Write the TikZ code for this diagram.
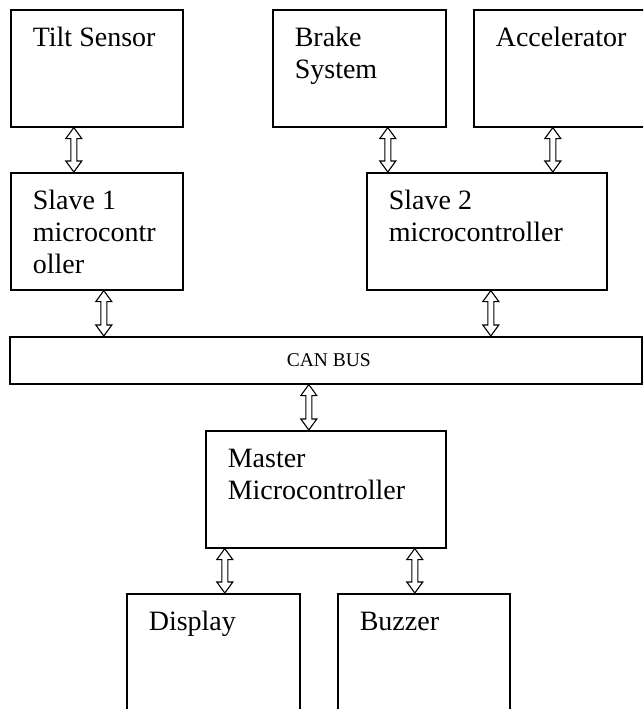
\documentclass[tikz,border=0pt]{standalone}
\usepackage{fontspec}
\setmainfont{Liberation Serif}
\usetikzlibrary{calc}
\newcommand\boxtxt[3]{\parbox[t][\dimexpr#2pt-28pt\relax][t]{\dimexpr#1pt-44pt\relax}{\raggedright\strut #3}}
\newcommand\dblarrow[2]{\draw[arrowline] let \p1=(#1), \p2=(#2) in
  (\x1,\y1) -- (\x1+8pt,\y1-11pt) -- (\x1+3pt,\y1-11pt) -- (\x1+3pt,\y2+11pt)
  -- (\x1+8pt,\y2+11pt) -- (\x1,\y2) -- (\x1-8pt,\y2+11pt) -- (\x1-3pt,\y2+11pt)
  -- (\x1-3pt,\y1-11pt) -- (\x1-8pt,\y1-11pt) -- cycle;}
\begin{document}
\begin{tikzpicture}[x=1pt,y=-1pt,
  blk/.style={draw, line width=1.6pt, anchor=north west, inner xsep=22pt, inner ysep=14pt,
    font=\fontsize{28}{32}\selectfont},
  busbox/.style={draw, line width=1.6pt, anchor=north west, inner sep=0pt,
    font=\fontsize{19.5}{22}\selectfont},
  arrowline/.style={draw, line width=1.1pt, line join=miter, fill=white}]
\useasboundingbox (0,0) rectangle (643,709);
\clip (0,0) rectangle (643,709);
\node[blk] (tilt) at (10,9) {\boxtxt{172}{117}{Tilt Sensor}};
\node[blk] (brake) at (272,9) {\boxtxt{173}{117}{Brake\\System}};
\node[blk] (accel) at (473,9) {\boxtxt{200}{117}{Accelerator}};
\node[blk] (slave1) at (10,172) {\boxtxt{172}{117}{Slave 1\\microcontr\\oller}};
\node[blk] (slave2) at (366,172) {\boxtxt{240}{117}{Slave 2\\microcontroller}};
\node[busbox, minimum width=632pt, minimum height=47pt] (can) at (9,336) {\hspace*{6pt}CAN BUS};
\node[blk] (master) at (205,430) {\boxtxt{240}{117}{Master\\Microcontroller}};
\node[blk] (display) at (126,593) {\boxtxt{173}{117}{Display}};
\node[blk] (buzzer) at (337,593) {\boxtxt{172}{117}{Buzzer}};
\dblarrow{[xshift=-23pt]tilt.south}{[xshift=-23pt]slave1.north}
\dblarrow{[xshift=28.5pt]brake.south}{[xshift=-99pt]slave2.north}
\dblarrow{[xshift=-21pt]accel.south}{[xshift=66pt]slave2.north}
\dblarrow{[xshift=7pt]slave1.south}{[xshift=-222pt]can.north}
\dblarrow{[xshift=4pt]slave2.south}{[xshift=165pt]can.north}
\dblarrow{[xshift=-17pt]can.south}{[xshift=-17pt]master.north}
\dblarrow{[xshift=-101pt]master.south}{[xshift=11.5pt]display.north}
\dblarrow{[xshift=89pt]master.south}{[xshift=-9pt]buzzer.north}
\end{tikzpicture}
\end{document}
